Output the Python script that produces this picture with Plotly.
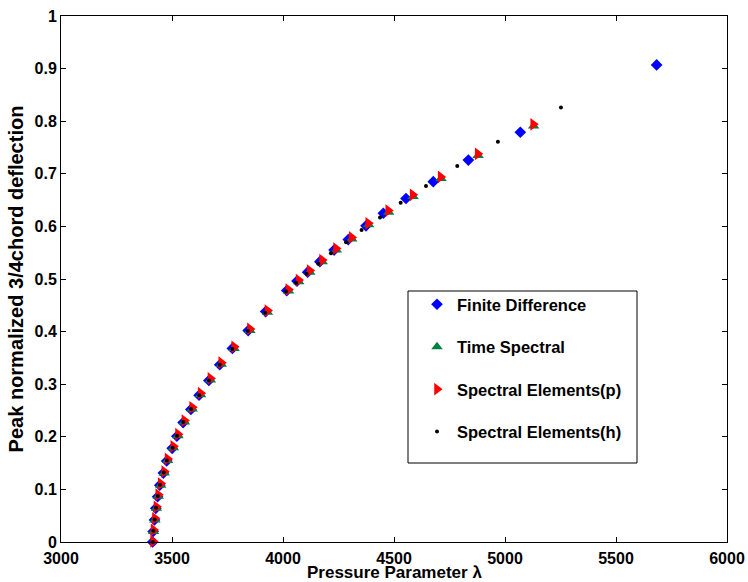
import plotly.graph_objects as go

# Finite Difference (blue diamonds)
fd_x = [3413, 3415, 3421, 3427, 3435, 3445, 3461, 3476, 3501, 3522, 3550, 3585, 3622, 3666,
        3715, 3772, 3843, 3922, 4017, 4063, 4111, 4166, 4230, 4294, 4374, 4452, 4554, 4677,
        4835, 5069, 5683]
fd_y = [0.000, 0.020, 0.042, 0.064, 0.086, 0.108, 0.131, 0.154, 0.178, 0.201, 0.227, 0.252,
        0.279, 0.307, 0.337, 0.368, 0.402, 0.438, 0.478, 0.496, 0.513, 0.533, 0.555, 0.575,
        0.601, 0.625, 0.653, 0.685, 0.726, 0.779, 0.907]

# Spectral Elements (p) (red right triangles)
sep_x = [3415, 3417, 3423, 3430, 3438, 3449, 3465, 3480, 3506, 3527, 3556, 3591, 3629, 3673,
         3722, 3780, 3851, 3930, 4024, 4070, 4120, 4176, 4239, 4309, 4384, 4474, 4584, 4710,
         4877, 5127]
sep_y = [0.001, 0.023, 0.045, 0.067, 0.090, 0.111, 0.134, 0.158, 0.182, 0.205, 0.231, 0.256,
         0.283, 0.311, 0.341, 0.371, 0.405, 0.440, 0.480, 0.498, 0.516, 0.536, 0.558, 0.579,
         0.606, 0.630, 0.660, 0.694, 0.738, 0.794]

# Time Spectral (green up triangles)
ts_x = [3415, 3417, 3423, 3430, 3438, 3449, 3465, 3480, 3506, 3527, 3556, 3591, 3629, 3673,
        3722, 3780, 3851, 3930, 4025, 4071, 4121, 4177, 4240, 4310, 4386, 4476, 4586, 4712,
        4879, 5129]
ts_y = [-0.002, 0.020, 0.042, 0.064, 0.087, 0.108, 0.131, 0.155, 0.179, 0.202, 0.228, 0.253,
        0.280, 0.308, 0.338, 0.368, 0.402, 0.437, 0.477, 0.495, 0.513, 0.533, 0.555, 0.576,
        0.603, 0.627, 0.657, 0.691, 0.735, 0.791]

# Spectral Elements (h) (black dots)
seh_x = [3414, 3416, 3422, 3428, 3436, 3446, 3463, 3477, 3503, 3523, 3551, 3586, 3623, 3667,
         3715, 3772, 3842, 3920, 4014, 4059, 4106, 4159, 4216, 4284, 4354, 4437, 4530, 4644,
         4785, 4968, 5252]
seh_y = [0.000, 0.0215, 0.043, 0.065, 0.0875, 0.109, 0.132, 0.155, 0.179, 0.202, 0.228, 0.253,
         0.279, 0.307, 0.337, 0.367, 0.401, 0.436, 0.476, 0.493, 0.510, 0.529, 0.549, 0.570,
         0.593, 0.617, 0.645, 0.677, 0.715, 0.761, 0.826]

x_ticks = [3000, 3500, 4000, 4500, 5000, 5500, 6000]
x_tick_text = ["3000", "3500", "4000", "4500", "5000", "5500", "6000"]
y_ticks = [0, 0.1, 0.2, 0.3, 0.4, 0.5, 0.6, 0.7, 0.8, 0.9, 1]
y_tick_text = ["0", "0.1", "0.2", "0.3", "0.4", "0.5", "0.6", "0.7", "0.8", "0.9", "1"]

FONT = "Liberation Sans, Arial, Helvetica, sans-serif"

fig = go.Figure()
fig.add_trace(go.Scatter(x=fd_x, y=fd_y, mode="markers", name="<b>Finite Difference</b>",
                         legendgroup="a", cliponaxis=False,
                         marker=dict(symbol="diamond", size=9, color="#0000FF",
                                     line=dict(width=0))))
fig.add_trace(go.Scatter(x=ts_x, y=ts_y, mode="markers", name="<b>Time Spectral</b>",
                         legendgroup="b", cliponaxis=False,
                         marker=dict(symbol="triangle-up", size=10, color="#008040",
                                     line=dict(width=0))))
fig.add_trace(go.Scatter(x=sep_x, y=sep_y, mode="markers", name="<b>Spectral Elements(p)</b>",
                         legendgroup="c", cliponaxis=False,
                         marker=dict(symbol="triangle-right", size=11, color="#FF0000",
                                     line=dict(width=0))))
fig.add_trace(go.Scatter(x=seh_x, y=seh_y, mode="markers", name="<b>Spectral Elements(h)</b>",
                         legendgroup="d", cliponaxis=False,
                         marker=dict(symbol="circle", size=4, color="#000000",
                                     line=dict(width=0))))

axis_common = dict(showline=True, linecolor="black", linewidth=1, mirror="allticks",
                   ticks="inside", ticklen=5, tickcolor="black", showgrid=False,
                   zeroline=False,
                   tickfont=dict(family=FONT, size=16, color="black", weight="bold"))

fig.update_xaxes(range=[3000, 6000], tickvals=x_ticks,
                 ticktext=["<b>%s</b>" % t for t in x_tick_text],
                 ticklabelstandoff=2,
                 **axis_common)
fig.update_yaxes(range=[0, 1], tickvals=y_ticks,
                 ticktext=["<b>%s</b>" % t for t in y_tick_text],
                 title=dict(text="<b>Peak normalized 3/4chord deflection</b>", standoff=5,
                            font=dict(family=FONT, size=20, color="black")),
                 **axis_common)

W, H = 748, 582
L, R, T, B = 61, 21, 16, 40
pw, ph = W - L - R, H - T - B

def px_x(p):
    return (p - L) / pw

def px_y(p):
    return (H - B - p) / ph

fig.add_shape(type="rect", xref="paper", yref="paper",
              x0=px_x(408), x1=px_x(637), y0=px_y(463), y1=px_y(291),
              line=dict(color="black", width=1), fillcolor="rgba(0,0,0,0)")

# x-axis title placed as text below the tick labels
fig.add_annotation(text="<b>Pressure Parameter λ</b>", xref="paper", yref="paper",
                   x=0.5, y=px_y(583), xanchor="center", yanchor="bottom",
                   showarrow=False, borderpad=0,
                   font=dict(family=FONT, size=17, color="black"))

fig.update_layout(
    width=W, height=H,
    margin=dict(l=L, r=R, t=T, b=B, autoexpand=False),
    paper_bgcolor="white", plot_bgcolor="white",
    font=dict(family=FONT, size=16, color="black"),
    legend=dict(x=px_x(417), y=px_y(287), xanchor="left", yanchor="top",
                bgcolor="rgba(0,0,0,0)", borderwidth=0,
                traceorder="grouped", tracegroupgap=18,
                font=dict(family=FONT, size=16.5, color="black")),
    showlegend=True,
)

fig.write_html("out.html")
